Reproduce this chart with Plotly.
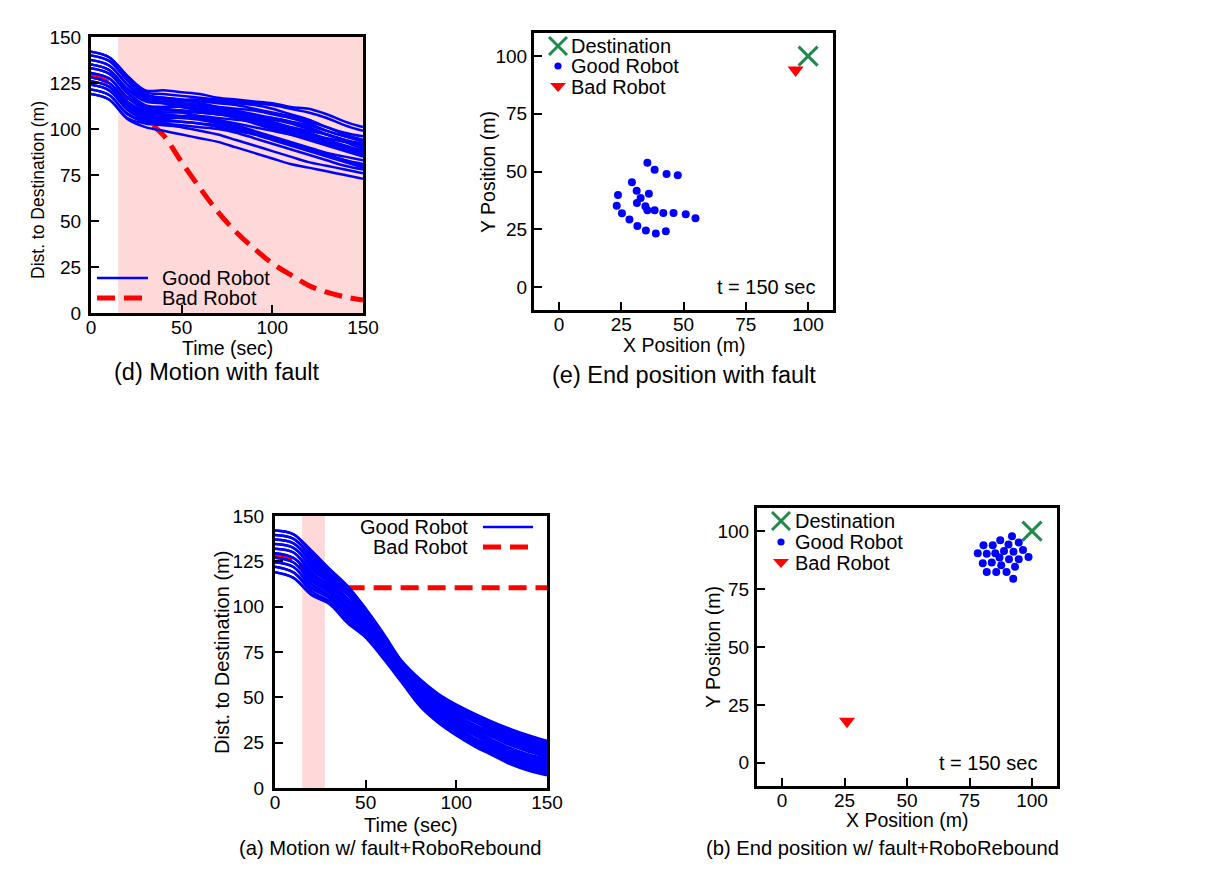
import plotly.graph_objects as go

FONT = "Liberation Sans, Arial, sans-serif"
OFF = 8                      # page margin around the figure
W, H = 1220 - 2 * OFF, 880 - 2 * OFF

# time samples (sec) for the distance curves
TIME = [0, 10, 20, 30, 40, 50, 60, 70, 80, 90, 100, 110, 120, 130, 140, 150]

# (d) motion with fault - distance of each good robot to the destination
D_GOOD = [
    [142, 139, 129, 121, 121, 120, 119, 117, 116, 115, 114, 112, 111, 108, 104, 101],
    [142, 139, 128.5, 120, 119, 118, 117, 116, 115, 114, 113, 111, 109, 106, 102, 99],
    [140, 137, 127, 119, 117, 116, 116, 115, 114, 113, 111, 108, 105, 101, 97, 94],
    [140, 137, 126.5, 118, 117, 116, 114, 112, 110, 108, 106, 104, 102, 99, 96, 93],
    [137.5, 134.5, 124.5, 117, 116, 115, 115, 114, 113, 111, 109, 107, 104, 101, 98, 96],
    [137.5, 134.5, 124, 116, 115, 114, 113, 111, 109, 106, 103, 100, 97, 94, 91, 88],
    [135, 132, 122, 116, 114, 112, 110, 109, 108, 107, 106, 104, 101, 97, 93, 89],
    [135, 132, 121.5, 115, 114, 113, 112, 110, 107, 104, 101, 98, 95, 92, 89, 86],
    [133, 130, 120, 113, 112, 112, 111, 110, 109, 107, 104, 101, 98, 95, 93, 91],
    [133, 130, 119.5, 112, 111, 109, 107, 105, 103, 101, 99, 97, 95, 92, 89, 87],
    [130.5, 127.5, 117.5, 112, 111, 110, 109, 108, 107, 106, 105, 103, 100, 97, 94, 92],
    [130.5, 127.5, 117, 111, 112, 113, 113, 112, 111, 110, 108, 106, 103, 99, 96, 94],
    [128, 125, 115, 110, 110, 110, 109, 108, 106, 103, 100, 97, 94, 91, 88, 85],
    [128, 125, 114.5, 109, 109, 109, 109, 108, 107, 105, 103, 101, 99, 97, 94, 90],
    [126, 123, 113, 108, 108, 107, 106, 104, 102, 99, 96, 93, 90, 87, 85, 83],
    [126, 123, 112.5, 107, 107, 107, 107, 106, 105, 104, 102, 99, 96, 93, 90, 88],
    [124, 121, 111, 106, 106, 106, 105, 103, 101, 98, 95, 92, 89, 86, 83, 80],
    [124, 121, 110.5, 105, 105, 104, 103, 101, 99, 97, 94, 91, 88, 85, 82, 79],
    [121.5, 118.5, 108.5, 104, 104, 104, 103, 102, 100, 98, 95, 92, 89, 86, 83, 81],
    [121.5, 118.5, 108, 104, 103, 102, 101, 100, 98, 95, 92, 89, 86, 83, 80, 78],
    [119, 116, 106, 103, 102, 101, 99, 97, 94, 91, 88, 85, 82, 80, 78, 76],
    [119, 116, 105.5, 101, 99, 97, 95, 93, 90, 87, 84, 81, 79, 77, 75, 73],
]
D_BAD = [129.3, 125, 115, 105.5, 96.5, 82, 68, 55, 44, 35, 27, 20.8, 15, 11.3, 8.8, 7]
D_FAULT = [15, 150]

# (a) motion with fault + RoboRebound
A_GOOD = [
    [142, 140, 131, 121, 111.5, 99, 85, 70, 60, 52, 46, 41, 36.5, 32.5, 29, 26],
    [142, 140, 130, 120, 110.5, 98.5, 84, 69.5, 59.5, 51, 45, 40, 35.5, 31.5, 28, 25],
    [139.5, 137.5, 128.5, 118.5, 109, 97, 83.5, 68.5, 58.5, 50, 44, 39, 34.5, 30.5, 27, 24],
    [139.5, 137.5, 127.5, 117.5, 108, 96.5, 82.5, 68, 57.5, 49.5, 43.5, 38, 33.5, 29.5, 26, 23],
    [137, 135, 126, 116.5, 107, 96, 82, 67.5, 57, 48.5, 42.5, 37, 32.5, 28.5, 25, 22],
    [137, 135, 124.5, 115, 106.5, 94.5, 81.5, 67, 56, 48, 41.5, 36.5, 31.5, 27.5, 24, 21],
    [134.5, 132.5, 123, 114.5, 104.5, 94, 80.5, 66, 55, 47, 40.5, 35, 30.5, 26.5, 23, 20],
    [134.5, 132.5, 122, 113.5, 104, 93, 79.5, 65.5, 54.5, 46, 39.5, 34.5, 29.5, 25.5, 22, 19],
    [132, 130, 120.5, 113, 103, 92, 79, 65, 53.5, 45.5, 39, 33.5, 28.5, 24.5, 21, 18],
    [132, 130, 119, 111.5, 102, 91.5, 78.5, 64.5, 53, 44.5, 38, 32.5, 28, 23.5, 20, 17],
    [129.5, 127, 118, 110, 100.5, 90.5, 77.5, 63.5, 52, 43.5, 37, 31.5, 26.5, 22, 18.5, 16],
    [129.5, 127, 116.5, 109, 99.5, 89.5, 77, 63, 51.5, 42.5, 36, 30.5, 26, 21, 17.5, 15],
    [127, 124.5, 115, 108.5, 98.5, 89, 76, 62.5, 50.5, 42, 35.5, 29.5, 25, 20, 16.5, 14],
    [127, 124.5, 114, 107.5, 98, 88, 75.5, 62, 50, 41, 34.5, 29, 24, 19, 15.5, 13],
    [124.5, 122, 112.5, 106, 96.5, 87.5, 74.5, 61, 49, 40, 33.5, 27.5, 23, 18, 14.5, 12],
    [124.5, 122, 111, 105.5, 95.5, 86.5, 74, 60.5, 48, 39.5, 32.5, 27, 22, 17, 13.5, 11],
    [122, 119, 110, 104.5, 94, 85.5, 73, 60, 47.5, 38.5, 31.5, 26, 21, 16, 12.5, 10],
    [122, 119, 108.5, 103, 93, 84, 72, 59, 46.5, 37.5, 30.5, 25, 20, 15, 11.5, 9],
    [119, 116, 107, 102.5, 92, 84, 72, 59, 46, 37, 30, 24, 19, 14, 10.5, 8],
    [119, 116, 106.5, 101.5, 91, 83, 71, 58, 45, 36, 29, 23, 18, 13, 9.5, 7],
]
A_BAD = [128.5, 126, 117, 112, 110.5, 110.5, 110.5, 110.5, 110.5, 110.5, 110.5,
         110.5, 110.5, 110.5, 110.5, 110.5]
A_FAULT = [15, 27.5]

# (e) end positions with fault, t = 150 sec
E_GOOD_X = [35.5, 38.4, 43.2, 47.7, 29.3, 31.2, 36.1, 23.7, 32.8, 31.3, 23.2, 34.7,
            35.5, 38.4, 41.9, 46.0, 50.9, 54.8, 25.3, 28.3, 31.5, 34.9, 38.9, 42.9]
E_GOOD_Y = [53.8, 50.8, 48.9, 48.4, 45.3, 41.7, 40.4, 39.8, 38.5, 36.4, 35.2, 34.9,
            33.2, 33.2, 32.0, 32.0, 31.5, 29.7, 31.9, 29.2, 26.4, 24.4, 23.1, 24.1]
E_BAD_X = [95]
E_BAD_Y = [94]

# (b) end positions with fault + RoboRebound, t = 150 sec
B_GOOD_X = [92.0, 87.3, 94.7, 80.6, 84.3, 90.6, 78.3, 81.9, 85.3, 88.8, 92.6, 96.4,
            87.0, 90.8, 94.7, 98.6, 80.3, 83.9, 87.7, 93.2, 81.9, 85.7, 89.8, 92.5]
B_GOOD_Y = [97.8, 96.1, 95.1, 93.9, 93.9, 94.2, 90.5, 90.2, 90.5, 91.4, 91.1, 91.9,
            88.6, 87.9, 87.9, 88.8, 86.2, 86.5, 85.3, 84.6, 82.4, 82.4, 82.4, 79.5]
B_BAD_X = [26]
B_BAD_Y = [18]

DEST_X = [100]
DEST_Y = [100]

BLUE = "#0000ff"
RED = "#ff0000"
GREEN = "#1f8a4c"
SHADE = "#ffd9d9"
DASH = "18px,9px"


def p(x, y):
    # page pixel position -> paper fraction
    return (x - OFF) / W, 1 - (y - OFF) / H


def axis(lo, hi, horizontal, rng, dtick, standoff):
    if horizontal:
        d = [(lo - OFF) / W, (hi - OFF) / W]
    else:
        d = [1 - (hi - OFF) / H, 1 - (lo - OFF) / H]
    return dict(domain=d, range=rng, dtick=dtick, showline=True, linewidth=3,
                linecolor="black", mirror=True, ticks="inside", ticklen=8,
                tickwidth=2, tickcolor="black", showgrid=False, zeroline=False,
                ticklabelstandoff=standoff, automargin=False,
                tickfont=dict(family=FONT, size=19, color="black"))


def text(fig, x, y, s, size=20, anchor="left", angle=0):
    px_, py_ = p(x, y)
    fig.add_annotation(x=px_, y=py_, xref="paper", yref="paper", text=s,
                       showarrow=False, xanchor=anchor, yanchor="middle",
                       textangle=angle, font=dict(family=FONT, size=size, color="black"))


def key_line(fig, x0, x1, y, color, width, dash="solid"):
    a, b = p(x0, y)
    c, _ = p(x1, y)
    fig.add_shape(type="line", xref="paper", yref="paper", x0=a, x1=c, y0=b, y1=b,
                  line=dict(color=color, width=width, dash=dash))


def key_marker(fig, x, y, kind):
    ax, ay = p(x, y)
    base = dict(xref="paper", yref="paper", xsizemode="pixel", ysizemode="pixel",
                xanchor=ax, yanchor=ay)
    if kind == "x":
        fig.add_shape(type="line", x0=-9, x1=9, y0=-9, y1=9,
                      line=dict(color=GREEN, width=3), **base)
        fig.add_shape(type="line", x0=-9, x1=9, y0=9, y1=-9,
                      line=dict(color=GREEN, width=3), **base)
    elif kind == "dot":
        fig.add_shape(type="circle", x0=-3.6, x1=3.6, y0=-3.6, y1=3.6,
                      fillcolor=BLUE, line=dict(width=0), **base)
    else:
        fig.add_shape(type="path", path="M-8,4 L8,4 L0,-5 Z",
                      fillcolor=RED, line=dict(width=0), **base)


fig = go.Figure()

# distance panels: bad robot drawn first so the good robots cover it
for xa, ya, good, bad in [("x", "y", D_GOOD, D_BAD), ("x3", "y3", A_GOOD, A_BAD)]:
    fig.add_trace(go.Scatter(x=TIME, y=bad, mode="lines", xaxis=xa, yaxis=ya,
                             line=dict(color=RED, width=5, dash=DASH, shape="spline"),
                             showlegend=False))
    for g in good:
        fig.add_trace(go.Scatter(x=TIME, y=g, mode="lines", xaxis=xa, yaxis=ya,
                                 line=dict(color=BLUE, width=2.5, shape="spline"),
                                 showlegend=False))

# end position panels
for xa, ya, gx, gy, bx, by in [("x2", "y2", E_GOOD_X, E_GOOD_Y, E_BAD_X, E_BAD_Y),
                               ("x4", "y4", B_GOOD_X, B_GOOD_Y, B_BAD_X, B_BAD_Y)]:
    fig.add_trace(go.Scatter(x=DEST_X, y=DEST_Y, mode="markers", xaxis=xa, yaxis=ya,
                             marker=dict(symbol="x-thin", size=19, color=GREEN,
                                         line=dict(color=GREEN, width=3)),
                             showlegend=False))
    fig.add_trace(go.Scatter(x=gx, y=gy, mode="markers", xaxis=xa, yaxis=ya,
                             marker=dict(symbol="circle", size=8, color=BLUE),
                             showlegend=False))
    fig.add_trace(go.Scatter(x=bx, y=by, mode="markers", xaxis=xa, yaxis=ya,
                             marker=dict(symbol="triangle-down", size=14, color=RED),
                             showlegend=False))

# fault windows
fig.add_shape(type="rect", xref="x", yref="y domain", x0=D_FAULT[0], x1=D_FAULT[1],
              y0=0, y1=1, fillcolor=SHADE, line=dict(width=0), layer="below")
fig.add_shape(type="rect", xref="x3", yref="y3 domain", x0=A_FAULT[0], x1=A_FAULT[1],
              y0=0, y1=1, fillcolor=SHADE, line=dict(width=0), layer="below")

fig.update_layout(
    width=W, height=H, margin=dict(l=0, r=0, t=0, b=0, pad=0, autoexpand=False),
    paper_bgcolor="white", plot_bgcolor="white", showlegend=False,
    xaxis=axis(91, 363, True, [0, 150], 50, -5),
    yaxis=axis(37, 313, False, [0, 150], 25, 3),
    xaxis2=axis(534, 833, True, [-10, 110], 25, -5),
    yaxis2=axis(33, 310, False, [-10, 110], 25, 0),
    xaxis3=axis(275, 547, True, [0, 150], 50, -5),
    yaxis3=axis(516, 788, False, [0, 150], 25, 4),
    xaxis4=axis(757, 1057, True, [-10, 110], 25, -5),
    yaxis4=axis(508, 786, False, [-10, 110], 25, 1),
)
fig.layout.xaxis.anchor = "y"
fig.layout.yaxis.anchor = "x"
fig.layout.xaxis2.anchor = "y2"
fig.layout.yaxis2.anchor = "x2"
fig.layout.xaxis3.anchor = "y3"
fig.layout.yaxis3.anchor = "x3"
fig.layout.xaxis4.anchor = "y4"
fig.layout.yaxis4.anchor = "x4"

# axis titles
text(fig, 227, 348, "Time (sec)", 19.5, "center")
text(fig, 38, 190, "Dist. to Destination (m)", 17.5, "center", -90)
text(fig, 684, 345, "X Position (m)", 19.5, "center")
text(fig, 488, 172, "Y Position (m)", 19.5, "center", -90)
text(fig, 411, 825, "Time (sec)", 20, "center")
text(fig, 222, 653, "Dist. to Destination (m)", 20, "center", -90)
text(fig, 907, 820, "X Position (m)", 19.5, "center")
text(fig, 713, 647, "Y Position (m)", 19.5, "center", -90)

# captions
text(fig, 217, 372, "(d) Motion with fault", 23.5, "center")
text(fig, 684, 375, "(e) End position with fault", 23.5, "center")
text(fig, 390, 848, "(a) Motion w/ fault+RoboRebound", 20.2, "center")
text(fig, 882, 848, "(b) End position w/ fault+RoboRebound", 20.2, "center")

# legend (d)
key_line(fig, 97, 148, 278, BLUE, 2.5)
key_line(fig, 97, 148, 298, RED, 5, DASH)
text(fig, 160, 278, "Good Robot")
text(fig, 160, 298, "Bad Robot")

# legend (a)
key_line(fig, 483, 533, 527, BLUE, 2.5)
key_line(fig, 483, 533, 547, RED, 5, DASH)
text(fig, 470, 527, "Good Robot", anchor="right")
text(fig, 470, 547, "Bad Robot", anchor="right")

# legends (e) and (b)
for sx, tx, rows in [(558, 569, (46, 66, 87)), (781, 793, (521, 542, 563))]:
    key_marker(fig, sx, rows[0], "x")
    key_marker(fig, sx, rows[1], "dot")
    key_marker(fig, sx, rows[2], "tri")
    text(fig, tx, rows[0], "Destination")
    text(fig, tx, rows[1], "Good Robot")
    text(fig, tx, rows[2], "Bad Robot")

text(fig, 817, 287, "t = 150 sec", anchor="right")
text(fig, 1039, 763, "t = 150 sec", anchor="right")

fig.write_html("out.html")
